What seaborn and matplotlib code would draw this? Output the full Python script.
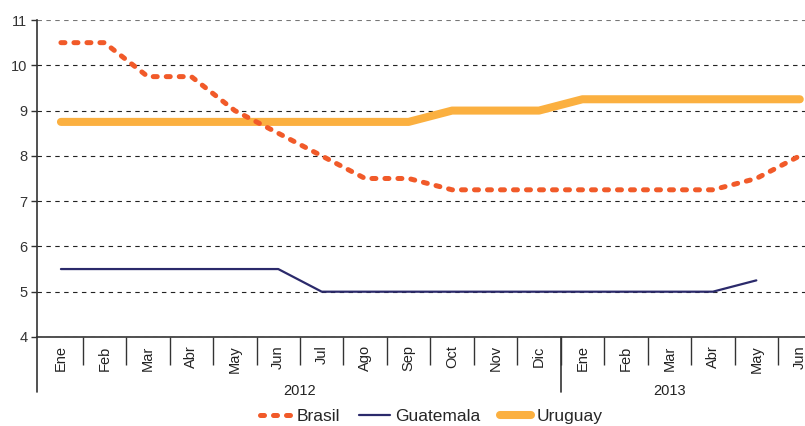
import matplotlib
matplotlib.use('Agg')
import numpy as np
import pandas as pd
import seaborn as sns
import matplotlib.pyplot as plt

# data
months = ['Ene', 'Feb', 'Mar', 'Abr', 'May', 'Jun', 'Jul', 'Ago', 'Sep', 'Oct', 'Nov', 'Dic',
          'Ene', 'Feb', 'Mar', 'Abr', 'May', 'Jun']
years = ['2012', '2013']
brasil = [10.5, 10.5, 9.75, 9.75, 9.0, 8.5, 8.0, 7.5, 7.5, 7.25, 7.25, 7.25,
          7.25, 7.25, 7.25, 7.25, 7.5, 8.0]
guatemala = [5.5, 5.5, 5.5, 5.5, 5.5, 5.5, 5.0, 5.0, 5.0, 5.0, 5.0, 5.0,
             5.0, 5.0, 5.0, 5.0, 5.25, np.nan]
uruguay = [8.75, 8.75, 8.75, 8.75, 8.75, 8.75, 8.75, 8.75, 8.75, 9.0, 9.0, 9.0,
           9.25, 9.25, 9.25, 9.25, 9.25, 9.25]

pos = np.arange(len(months))
df = pd.DataFrame({'pos': pos, 'Brasil': brasil, 'Guatemala': guatemala, 'Uruguay': uruguay})

sns.set_style('white')
plt.rcParams['font.family'] = ['Liberation Sans', 'DejaVu Sans']

fig = plt.figure(figsize=(8.05, 4.26), dpi=100)
ax = fig.add_axes([0.046, 0.209, 0.954, 0.744])

sns.lineplot(data=df, x='pos', y='Brasil', ax=ax, color='#F15A29', linewidth=3.6,
             label='Brasil')
ax.lines[-1].set_dashes((0.8, 1.8))
ax.lines[-1].set_dash_capstyle('round')
sns.lineplot(data=df.dropna(), x='pos', y='Guatemala', ax=ax, color='#2B2A6B',
             linewidth=1.6, label='Guatemala')
sns.lineplot(data=df, x='pos', y='Uruguay', ax=ax, color='#FBB040', linewidth=5.8,
             label='Uruguay', solid_capstyle='round')
ax.lines[-1].set_zorder(1)

ax.set_xlim(-0.55, 17.12)
ax.set_ylim(4, 11)
ax.set_yticks(range(4, 12))
ax.set_xlabel('')
ax.set_ylabel('')

# horizontal dashed grid
ax.yaxis.grid(True, color='#222222', linestyle=(0, (4, 4)), linewidth=0.8)
ax.yaxis.get_gridlines()[-1].set_color('#777777')
ax.xaxis.grid(False)
ax.set_axisbelow(True)

for s in ['top', 'right']:
    ax.spines[s].set_visible(False)
for s in ['left', 'bottom']:
    ax.spines[s].set_color('#333333')
    ax.spines[s].set_linewidth(1.2)

ax.tick_params(axis='y', left=True, length=4, width=1, color='#333333',
               labelsize=10.5, labelcolor='#333333', pad=3)

# separators as major ticks, month names as minor tick labels
ax.set_xticks(pos[:-1] + 0.5)
ax.set_xticklabels([])
ax.tick_params(axis='x', which='major', bottom=True, length=20, width=1, color='#333333')
ax.set_xticks(pos, minor=True)
ax.set_xticklabels(months, minor=True, rotation=90, fontsize=10.5, color='#222222')
ax.tick_params(axis='x', which='minor', bottom=True, length=0, pad=6)
for lbl in ax.get_xticklabels(minor=True):
    lbl.set_verticalalignment('top')

# long year separators
tr = ax.get_xaxis_transform()
for xs in [-0.55, 11.5]:
    ax.plot([xs, xs], [0, -0.173], transform=tr, clip_on=False, color='#333333', linewidth=1.2)
ax.text(5.5, -0.17, years[0], transform=tr, ha='center', va='center', fontsize=10.5, color='#222222')
ax.text(14.0, -0.17, years[1], transform=tr, ha='center', va='center', fontsize=10.5, color='#222222')

ax.legend(loc='center', bbox_to_anchor=(0.513, -0.25), ncol=3, frameon=False,
          fontsize=12.5, handlelength=1.8, columnspacing=1.1, handletextpad=0.3)

fig.savefig('out.png', dpi=100)
